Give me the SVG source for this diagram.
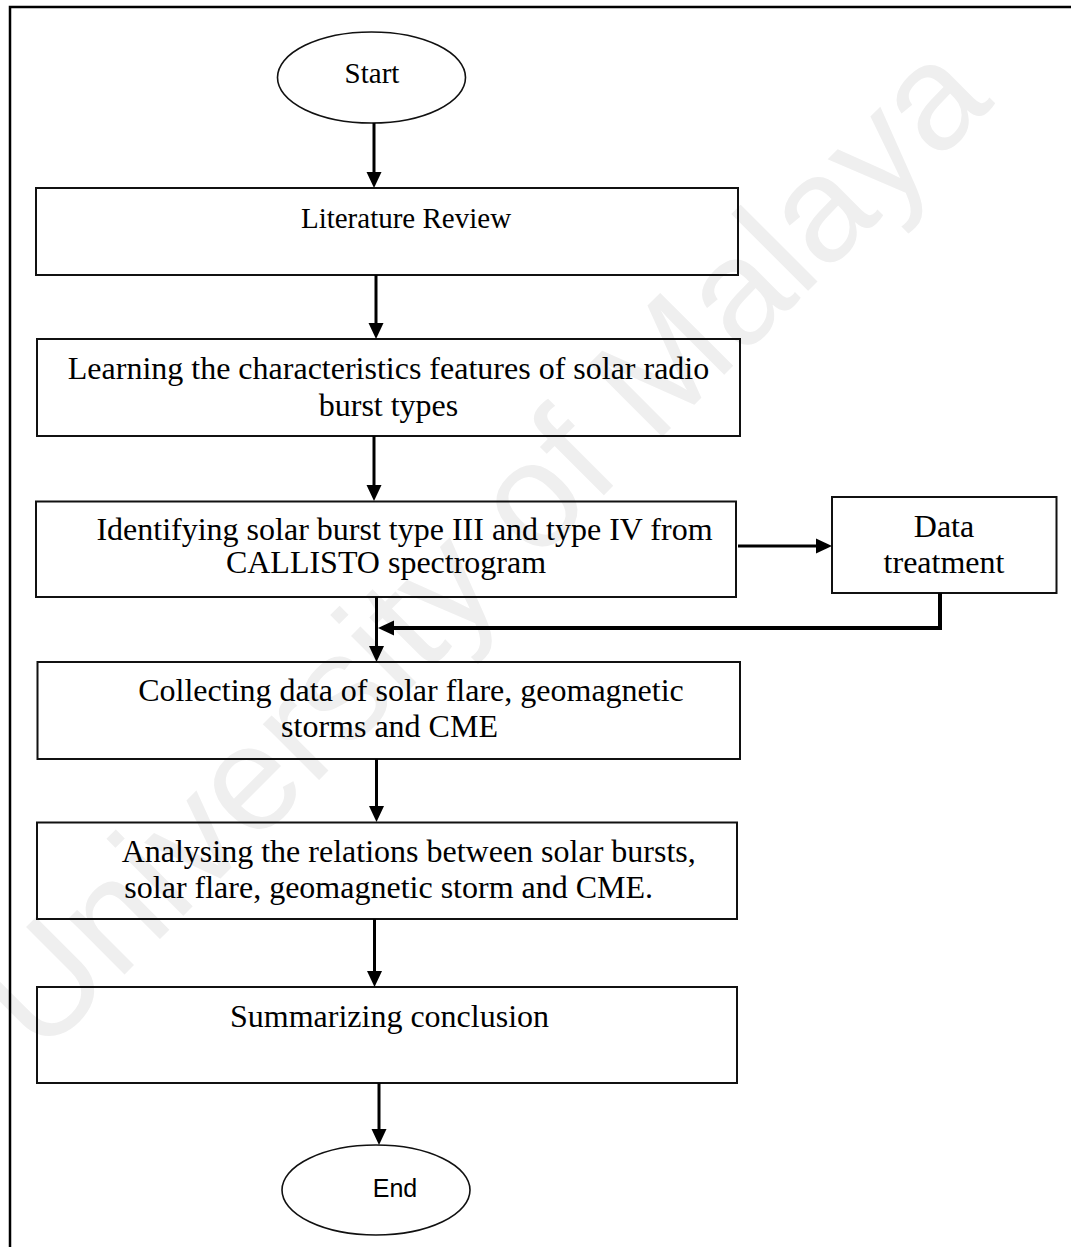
<svg xmlns="http://www.w3.org/2000/svg" width="1071" height="1247" viewBox="0 0 1071 1247">
  <defs>
    <marker id="arrow" viewBox="0 0 16 16" refX="8" refY="8" markerWidth="16" markerHeight="16" markerUnits="userSpaceOnUse" orient="auto">
      <path d="M0,0.5 L16,8 L0,15.5 Z" fill="#000"/>
    </marker>
    <style>
      .box { fill: none; stroke: #111; stroke-width: 2; }
      .term { fill: none; stroke: #111; stroke-width: 1.6; }
      .t { font-family: "Liberation Serif", "Times New Roman", serif; font-size: 32px; fill: #000; text-anchor: middle; }
      .ts { font-family: "Liberation Sans", Arial, sans-serif; font-size: 25px; fill: #000; text-anchor: middle; }
      .conn { fill: none; stroke: #000; stroke-width: 3; marker-end: url(#arrow); }
      .wm { font-family: "Liberation Sans", Arial, sans-serif; font-size: 150px; fill: #efefef; text-anchor: middle; }
    </style>
  </defs>
  <rect width="1071" height="1247" fill="#fff"/>
  <text class="wm" transform="translate(518,581) rotate(-45)">University of Malaya</text>
  <path d="M10,1260 V7 H1080" fill="none" stroke="#000" stroke-width="2.5"/>

  <g id="start">
    <ellipse class="term" cx="371.5" cy="77.5" rx="94" ry="45.5"/>
    <text class="t" style="font-size:29px" x="372" y="83">Start</text>
  </g>
  <g id="literature">
    <rect class="box" x="36" y="188" width="702" height="87"/>
    <text class="t" style="font-size:29px" x="406" y="228">Literature Review</text>
  </g>
  <g id="learning">
    <rect class="box" x="37" y="339" width="703" height="97"/>
    <text class="t" x="388.5" y="379">Learning the characteristics features of solar radio</text>
    <text class="t" x="388.5" y="416">burst types</text>
  </g>
  <g id="identifying">
    <rect class="box" x="36" y="501.5" width="700" height="95.5"/>
    <text class="t" x="404.5" y="540">Identifying solar burst type III and type IV from</text>
    <text class="t" x="386" y="573">CALLISTO spectrogram</text>
  </g>
  <g id="data-treatment">
    <rect class="box" x="832" y="497" width="224.5" height="96"/>
    <text class="t" x="944" y="537">Data</text>
    <text class="t" x="944" y="573">treatment</text>
  </g>
  <g id="collecting">
    <rect class="box" x="37.5" y="662" width="702.5" height="97"/>
    <text class="t" x="411" y="701">Collecting data of solar flare, geomagnetic</text>
    <text class="t" x="389.5" y="737">storms and CME</text>
  </g>
  <g id="analysing">
    <rect class="box" x="37" y="822.5" width="700" height="96.5"/>
    <text class="t" x="408.7" y="862">Analysing the relations between solar bursts,</text>
    <text class="t" x="388.7" y="898">solar flare, geomagnetic storm and CME.</text>
  </g>
  <g id="summarizing">
    <rect class="box" x="37" y="987" width="700" height="96"/>
    <text class="t" x="389.5" y="1027">Summarizing conclusion</text>
  </g>
  <g id="end">
    <ellipse class="term" cx="376" cy="1190" rx="94" ry="45"/>
    <text class="ts" x="395" y="1197">End</text>
  </g>

  <g id="connectors">
    <path class="conn" d="M374,123 V180"/>
    <path class="conn" d="M376,275 V331"/>
    <path class="conn" d="M374,436 V493"/>
    <path class="conn" d="M376.5,597 V654"/>
    <path class="conn" d="M376.5,759 V814"/>
    <path class="conn" d="M374.5,919 V979"/>
    <path class="conn" d="M379,1083 V1137"/>
    <path class="conn" d="M738,546 H824"/>
    <path class="conn" style="stroke-width:4" d="M940,593 V628 H386"/>
  </g>
</svg>
